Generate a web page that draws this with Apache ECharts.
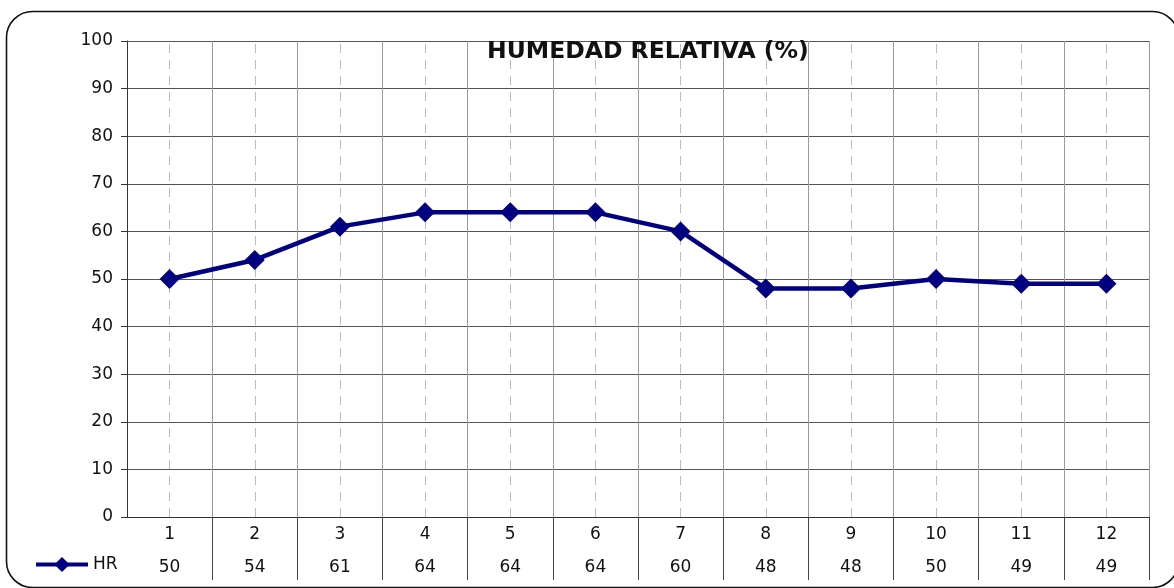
<!DOCTYPE html>
<html>
<head>
<meta charset="utf-8">
<script src="https://cdn.jsdelivr.net/npm/echarts@6/dist/echarts.min.js"></script>
<style>
  html, body { margin: 0; padding: 0; background: #fff; }
  #chart { width: 1174px; height: 588px; }
</style>
</head>
<body>
<div id="chart"></div>
<script>
// meses
var categories = ["1", "2", "3", "4", "5", "6", "7", "8", "9", "10", "11", "12"];
// humedad relativa (%)
var hrValues = [50, 54, 61, 64, 64, 64, 60, 48, 48, 50, 49, 49];
var yTicks = { min: 0, max: 100, interval: 10 };

var font = "DejaVu Sans";
var chart = echarts.init(document.getElementById("chart"));
var option = {
  animation: false,
  textStyle: { fontFamily: font },
  title: {
    text: "HUMEDAD RELATIVA (%)",
    left: 487,
    top: 40,
    padding: 0,
    textStyle: { fontFamily: font, fontSize: 23.5, fontWeight: "bold", color: "#111" },
  },
  legend: {
    data: ["HR"],
    left: 34,
    top: 556,
    padding: 0,
    itemWidth: 52,
    itemHeight: 19,
    itemGap: 0,
    lineStyle: { width: 4 },
    textStyle: { fontFamily: font, fontSize: 17, color: "#111" },
  },
  graphic: [
    {
      type: "rect",
      silent: true,
      shape: { x: 6.5, y: 11.5, width: 1172, height: 576, r: 26 },
      style: { fill: "none", stroke: "#111", lineWidth: 1.6 },
      z: -10,
    },
  ],
  grid: { left: 127, right: 25, top: 41, bottom: 71 },
  xAxis: [
    {
      type: "category",
      data: categories,
      boundaryGap: true,
      axisLine: { lineStyle: { color: "#333", width: 1 } },
      axisTick: {
        show: true,
        length: 63,
        interval: function (i) { return i > 0; },
        lineStyle: { color: "#444" },
      },
      axisLabel: { fontFamily: font, fontSize: 17, color: "#111", margin: 9 },
      splitLine: { show: true, lineStyle: { color: "#999", width: 1 } },
    },
    {
      type: "category",
      data: categories,
      position: "bottom",
      offset: 33,
      axisLine: { show: false },
      axisTick: { show: false },
      axisLabel: {
        fontFamily: font,
        fontSize: 17,
        color: "#111",
        margin: 9,
        formatter: function (v, i) { return hrValues[i]; },
      },
      splitLine: { show: false },
    },
  ],
  yAxis: {
    type: "value",
    min: yTicks.min,
    max: yTicks.max,
    interval: yTicks.interval,
    axisLine: { show: true, lineStyle: { color: "#333" } },
    axisTick: { show: true, length: 6, lineStyle: { color: "#333" } },
    axisLabel: { fontFamily: font, fontSize: 17, color: "#111", margin: 14 },
    splitLine: { lineStyle: { color: "#555", width: 1 } },
  },
  series: [
    {
      // lineas guía punteadas al centro de cada categoría
      name: "guia",
      type: "line",
      data: hrValues,
      showSymbol: false,
      silent: true,
      z: 1,
      lineStyle: { width: 0, opacity: 0 },
      markLine: {
        silent: true,
        z: 1,
        symbol: ["none", "none"],
        label: { show: false },
        lineStyle: { type: [9, 7], color: "#bbb", width: 1 },
        data: categories.map(function (c) { return { xAxis: c }; }),
      },
    },
    {
      name: "HR",
      type: "line",
      data: hrValues,
      z: 3,
      symbol: "diamond",
      symbolSize: 20,
      itemStyle: { color: "#000080" },
      lineStyle: { color: "#000080", width: 4.5 },
    },
  ],
};
chart.setOption(option);
window.addEventListener("resize", function () {
  chart.resize();
});
</script>
</body>
</html>
